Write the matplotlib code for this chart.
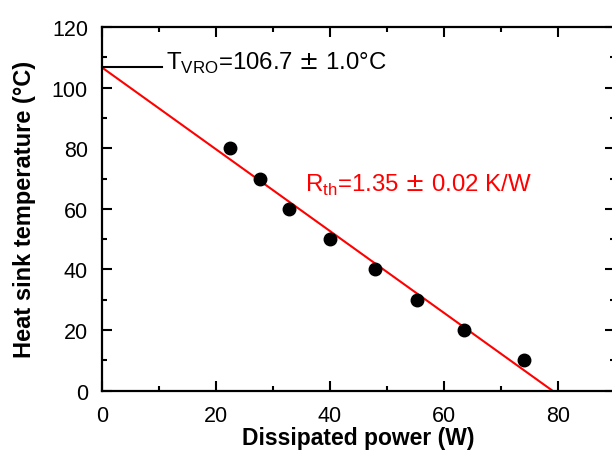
import numpy as np
import matplotlib
matplotlib.use("Agg")
import matplotlib.pyplot as plt
from matplotlib.ticker import MultipleLocator

plt.rcParams['font.family'] = ['Liberation Sans', 'DejaVu Sans']

# measured points
power = [22.4, 27.8, 32.9, 40.0, 47.9, 55.2, 63.6, 74.0]
temp = [80, 70, 60, 50, 40, 30, 20, 10]

# linear fit result
t_vro = 106.7
r_th = 1.35

fig = plt.figure(figsize=(6.12, 4.52), dpi=100)
ax = fig.add_axes([0.1663, 0.1334, 0.8386, 0.8046])

p_fit = np.array([0, t_vro / r_th])
ax.plot(p_fit, t_vro - r_th * p_fit, color='red', lw=1.5, zorder=2)
ax.plot(power, temp, 'o', color='black', ms=9, zorder=3)
ax.plot([0, 10.5], [t_vro, t_vro], color='black', lw=1.5, clip_on=False)

ax.text(11.3, t_vro + 1.5, r'T$_{\mathregular{VRO}}$=106.7 $\pm$ 1.0°C',
        fontsize=17.3, va='center', ha='left')
ax.text(35.6, 68, r'R$_{\mathregular{th}}$=1.35 $\pm$ 0.02 K/W',
        fontsize=17.3, va='center', ha='left', color='red')

ax.set_xlim(0, 90)
ax.set_ylim(0, 120)
ax.xaxis.set_major_locator(MultipleLocator(20))
ax.xaxis.set_minor_locator(MultipleLocator(10))
ax.yaxis.set_major_locator(MultipleLocator(20))
ax.yaxis.set_minor_locator(MultipleLocator(10))
ax.tick_params(which='both', direction='in', top=True, right=True, width=1.5,
               labelsize=15.5)
ax.tick_params(which='major', length=7, pad=10)
ax.tick_params(which='minor', length=3.5)
for s in ax.spines.values():
    s.set_linewidth(1.6)

ax.set_xlabel('Dissipated power (W)', fontsize=16.5, fontweight='bold')
ax.set_ylabel('Heat sink temperature (°C)', fontsize=17, fontweight='bold')
ax.xaxis.set_label_coords(0.5, -0.097)
ax.yaxis.set_label_coords(-0.128, 0.5)

fig.savefig('out.png', dpi=100)
